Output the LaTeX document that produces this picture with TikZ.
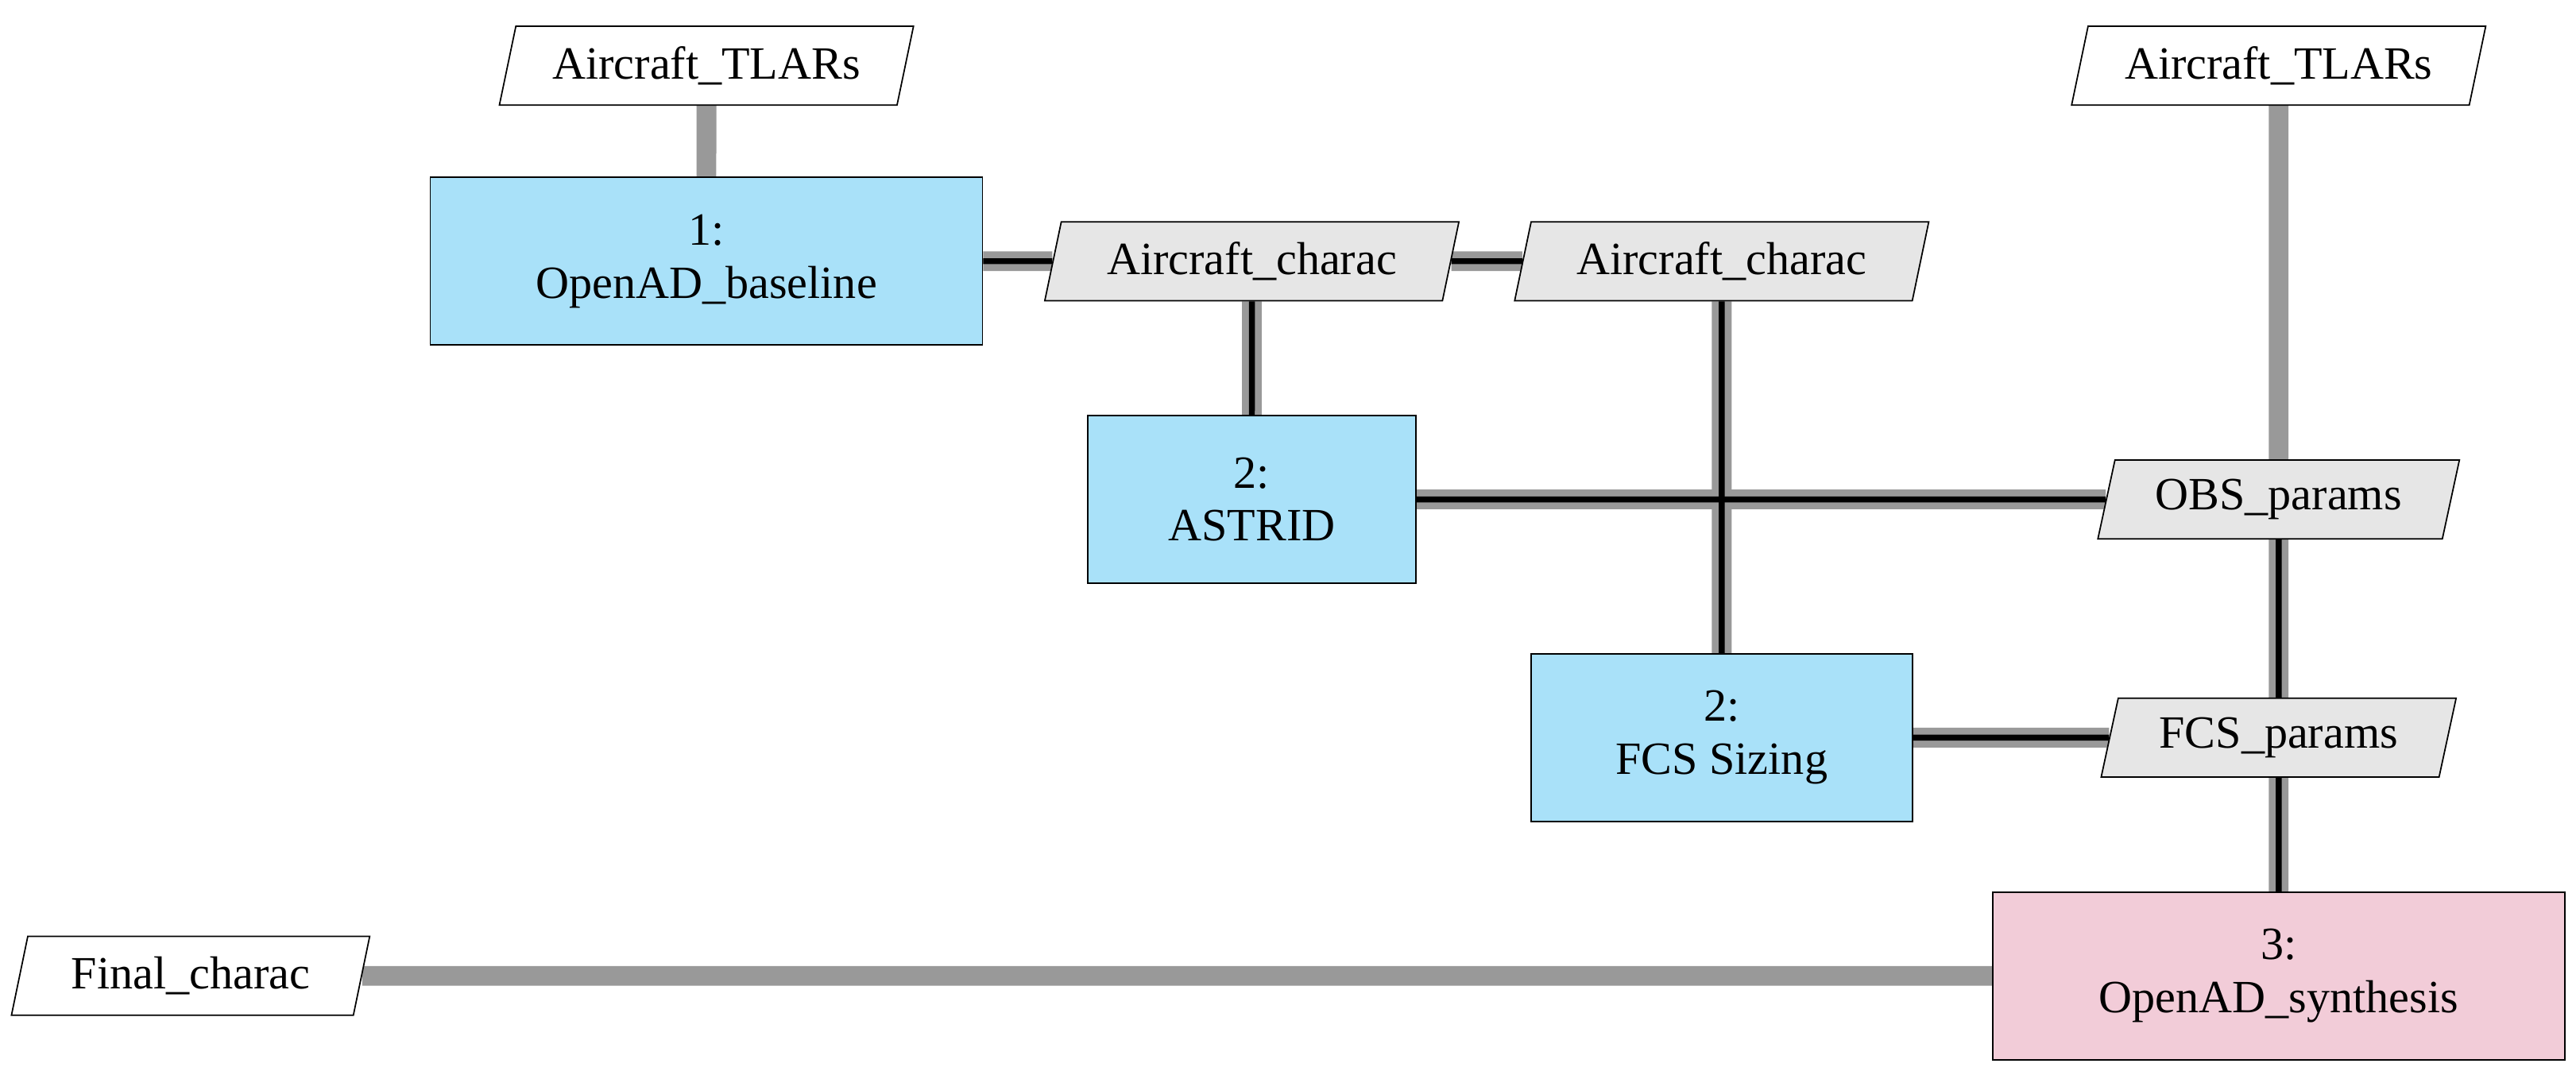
\documentclass[tikz,border=0pt]{standalone}
\usepackage{fontspec}
\setmainfont{Liberation Serif}
\usetikzlibrary{shapes.geometric,backgrounds}
\definecolor{compblue}{HTML}{A9E1F9}
\definecolor{comppink}{HTML}{F2CCD8}
\definecolor{datagray}{HTML}{E6E6E6}
\definecolor{linegray}{HTML}{999999}
\begin{document}
\begin{tikzpicture}[x=0.025cm,y=-0.025cm,
  every node/.style={font=\fontsize{20}{23}\selectfont, align=center, draw=black, line width=0.6pt},
  comp/.style={rectangle, fill=compblue, minimum height=2.55cm},
  synth/.style={rectangle, fill=comppink, minimum height=2.55cm, minimum width=8.7cm},
  data/.style={trapezium, trapezium left angle=73, trapezium right angle=107, trapezium stretches body, minimum height=1.2cm},
  ext/.style={data, fill=white},
  int/.style={data, fill=datagray},
  outer/.style={line width=0.3cm, draw=linegray},
  inner/.style={line width=0.09cm, draw=black}]
\useasboundingbox (0,0) rectangle (1568,654);
\node[ext, minimum width=6.3cm] (tl1) at (430,40) {Aircraft\_TLARs};
\node[ext, minimum width=6.3cm] (tl2) at (1387,40) {Aircraft\_TLARs};
\node[comp, minimum width=8.4cm] (base) at (430,159) {1:\\OpenAD\_baseline};
\node[int, minimum width=6.3cm] (ac1) at (762,159) {Aircraft\_charac};
\node[int, minimum width=6.3cm] (ac2) at (1048,159) {Aircraft\_charac};
\node[comp, minimum width=5cm] (astrid) at (762,304) {2:\\ASTRID};
\node[int, minimum width=5.5cm] (obs) at (1387,304) {OBS\_params};
\node[comp, minimum width=5.8cm] (fcs) at (1048,449) {2:\\FCS Sizing};
\node[int, minimum width=5.4cm] (fcsp) at (1387,449) {FCS\_params};
\node[synth] (syn) at (1387,594) {3:\\OpenAD\_synthesis};
\node[ext, minimum width=5.45cm] (fin) at (116,594) {Final\_charac};
\begin{scope}[on background layer]
  \draw[outer] (tl1) -- (base);
  \draw[outer] (tl2) -- (obs);
  \draw[outer] (fin) -- (syn);
  \foreach \a/\b in {base/ac1, ac1/ac2, ac1/astrid, ac2/fcs, astrid/obs, obs/fcsp, fcsp/syn, fcs/fcsp}{
    \draw[outer] (\a) -- (\b);
  }
  \foreach \a/\b in {base/ac1, ac1/ac2, ac1/astrid, ac2/fcs, astrid/obs, obs/fcsp, fcsp/syn, fcs/fcsp}{
    \draw[inner] (\a) -- (\b);
  }
\end{scope}
\end{tikzpicture}
\end{document}
